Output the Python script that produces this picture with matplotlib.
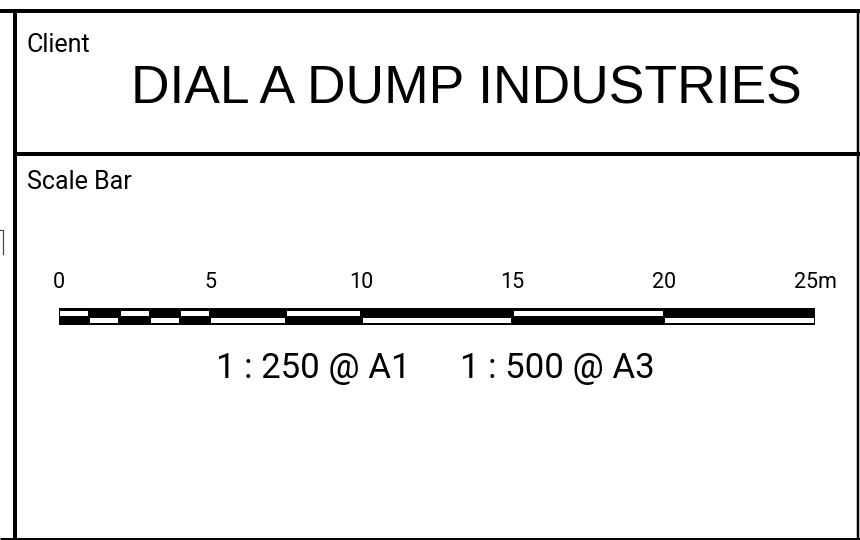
import matplotlib
matplotlib.use('Agg')
import matplotlib.pyplot as plt
from matplotlib.patches import Rectangle

# Scale bar data (metres)
seg_edges = [0, 1, 2, 3, 4, 5, 7.5, 10, 15, 20, 25]
tick_vals = [0, 5, 10, 15, 20, 25]
tick_labels = ['0', '5', '10', '15', '20', '25m']
client_name = 'DIAL A DUMP INDUSTRIES'
scale_texts = ['1 : 250 @ A1', '1 : 500 @ A3']

tech_font = ['Roboto', 'DejaVu Sans']

fig = plt.figure(figsize=(8.6, 5.4), dpi=100)

# full-figure axes in pixel units for the frame
ax = fig.add_axes([0, 0, 1, 1])
ax.set_xlim(0, 860)
ax.set_ylim(540, 0)
ax.axis('off')

px = 72 / 100  # points per pixel
ax.plot([0, 860], [11, 11], color='black', lw=4 * px, solid_capstyle='butt')
ax.plot([15, 15], [11, 540], color='black', lw=4 * px, solid_capstyle='butt')
ax.plot([15, 860], [154, 154], color='black', lw=4 * px, solid_capstyle='butt')
ax.plot([858, 858], [11, 540], color='black', lw=2.5 * px, solid_capstyle='butt')
ax.plot([0, 860], [538.5, 538.5], color='black', lw=3 * px, solid_capstyle='butt')
# bit of clipped text from the block on the left
ax.plot([0, 2.5, 2.5], [230, 230, 254], color='#444444', lw=1.2 * px)

ax.text(27, 52, 'Client', family=tech_font, fontsize=18, ha='left', va='baseline')
ax.text(466, 103, client_name, family='Liberation Sans', fontsize=38.5,
        ha='center', va='baseline')
ax.text(27, 189, 'Scale Bar', family=tech_font, fontsize=18, ha='left', va='baseline')
for cx, s in zip([313, 557], scale_texts):
    ax.text(cx, 378, s, family=tech_font, fontsize=25, ha='center', va='baseline')

# scale bar axes: x in metres, y in pixels from bar top
bx = fig.add_axes([59 / 860, 1 - 325 / 540, 756 / 860, 17 / 540])
bx.set_xlim(tick_vals[0], tick_vals[-1])
bx.set_ylim(17, 0)
bx.axis('off')

bx.add_patch(Rectangle((0, 0), 25, 17, facecolor='black', edgecolor='none'))
gap = 0.04
for i in range(len(seg_edges) - 1):
    x0, x1 = seg_edges[i], seg_edges[i + 1]
    y0 = 2.5 if i % 2 == 0 else 9.5
    bx.add_patch(Rectangle((x0 + gap, y0), x1 - x0 - 2 * gap, 5.5,
                           facecolor='white', edgecolor='none'))

for v, lab in zip(tick_vals, tick_labels):
    bx.text(v, -20, lab, family=tech_font, fontsize=15.5,
            ha='center', va='baseline', clip_on=False)

fig.savefig('out.png', dpi=100)
